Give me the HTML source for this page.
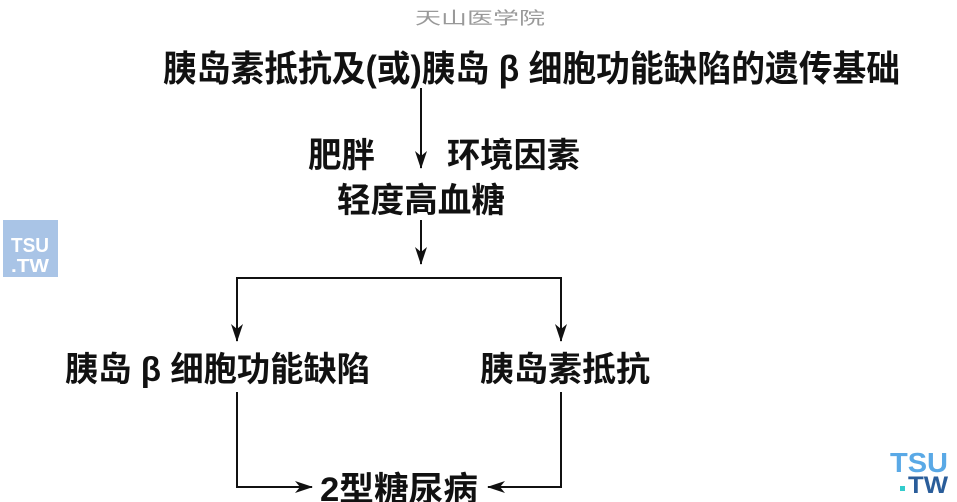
<!DOCTYPE html>
<html><head><meta charset="utf-8"><style>
html,body{margin:0;padding:0;background:#fff;width:957px;height:502px;overflow:hidden}
svg{display:block}
text{font-family:"Liberation Sans","Noto Sans CJK SC",sans-serif;fill:#111}
</style></head><body>
<svg width="957" height="502" viewBox="0 0 957 502" xmlns="http://www.w3.org/2000/svg">
<defs><marker id="a" markerWidth="18" markerHeight="12" refX="17" refY="6" orient="auto" markerUnits="userSpaceOnUse" viewBox="0 0 18 12"><path d="M0,0 L18,6 L0,12 L5,6 Z" fill="#111"/></marker></defs>
<text x="415" y="24" font-size="17" textLength="130" lengthAdjust="spacingAndGlyphs" style="fill:#999">天山医学院</text>
<text x="163" y="81" font-size="36" font-weight="bold" textLength="737" lengthAdjust="spacingAndGlyphs">胰岛素抵抗及(或)胰岛 β 细胞功能缺陷的遗传基础</text>
<line x1="421" y1="88" x2="421" y2="168" stroke="#111" stroke-width="2" marker-end="url(#a)"/>
<text x="308" y="167" font-size="34" font-weight="bold" textLength="67" lengthAdjust="spacingAndGlyphs">肥胖</text>
<text x="447" y="167" font-size="34" font-weight="bold" textLength="133" lengthAdjust="spacingAndGlyphs">环境因素</text>
<text x="337" y="212" font-size="34" font-weight="bold" textLength="168" lengthAdjust="spacingAndGlyphs">轻度高血糖</text>
<line x1="421" y1="220" x2="421" y2="264" stroke="#111" stroke-width="2" marker-end="url(#a)"/>
<polyline points="237,300 237,278 561,278 561,300" fill="none" stroke="#111" stroke-width="2"/>
<line x1="237" y1="298" x2="237" y2="341" stroke="#111" stroke-width="2" marker-end="url(#a)"/>
<line x1="561" y1="298" x2="561" y2="341" stroke="#111" stroke-width="2" marker-end="url(#a)"/>
<text x="65" y="381" font-size="34" font-weight="bold" textLength="305" lengthAdjust="spacingAndGlyphs">胰岛 β 细胞功能缺陷</text>
<text x="480" y="381" font-size="34" font-weight="bold" textLength="170" lengthAdjust="spacingAndGlyphs">胰岛素抵抗</text>
<polyline points="237,392 237,487 312,487" fill="none" stroke="#111" stroke-width="2" marker-end="url(#a)"/>
<polyline points="561,392 561,487 488,487" fill="none" stroke="#111" stroke-width="2" marker-end="url(#a)"/>
<text x="320" y="501" font-size="34" font-weight="bold" textLength="158" lengthAdjust="spacingAndGlyphs">2型糖尿病</text>
<rect x="3" y="220" width="55" height="57" fill="#a9c4e6"/>
<text x="11" y="252" font-size="20" font-weight="bold" style="fill:#fff" textLength="38" lengthAdjust="spacingAndGlyphs">TSU</text>
<text x="11" y="272" font-size="18" font-weight="bold" style="fill:#fff" textLength="38" lengthAdjust="spacingAndGlyphs">.TW</text>
<text x="890" y="472" font-size="28" font-weight="bold" style="fill:#5aa9e6" textLength="58" lengthAdjust="spacingAndGlyphs">TSU</text>
<rect x="900" y="486" width="5" height="5" fill="#3cc"/>
<text x="908" y="493" font-size="24" font-weight="bold" style="fill:#2a5d9a" textLength="40" lengthAdjust="spacingAndGlyphs">TW</text>
</svg>
</body></html>
